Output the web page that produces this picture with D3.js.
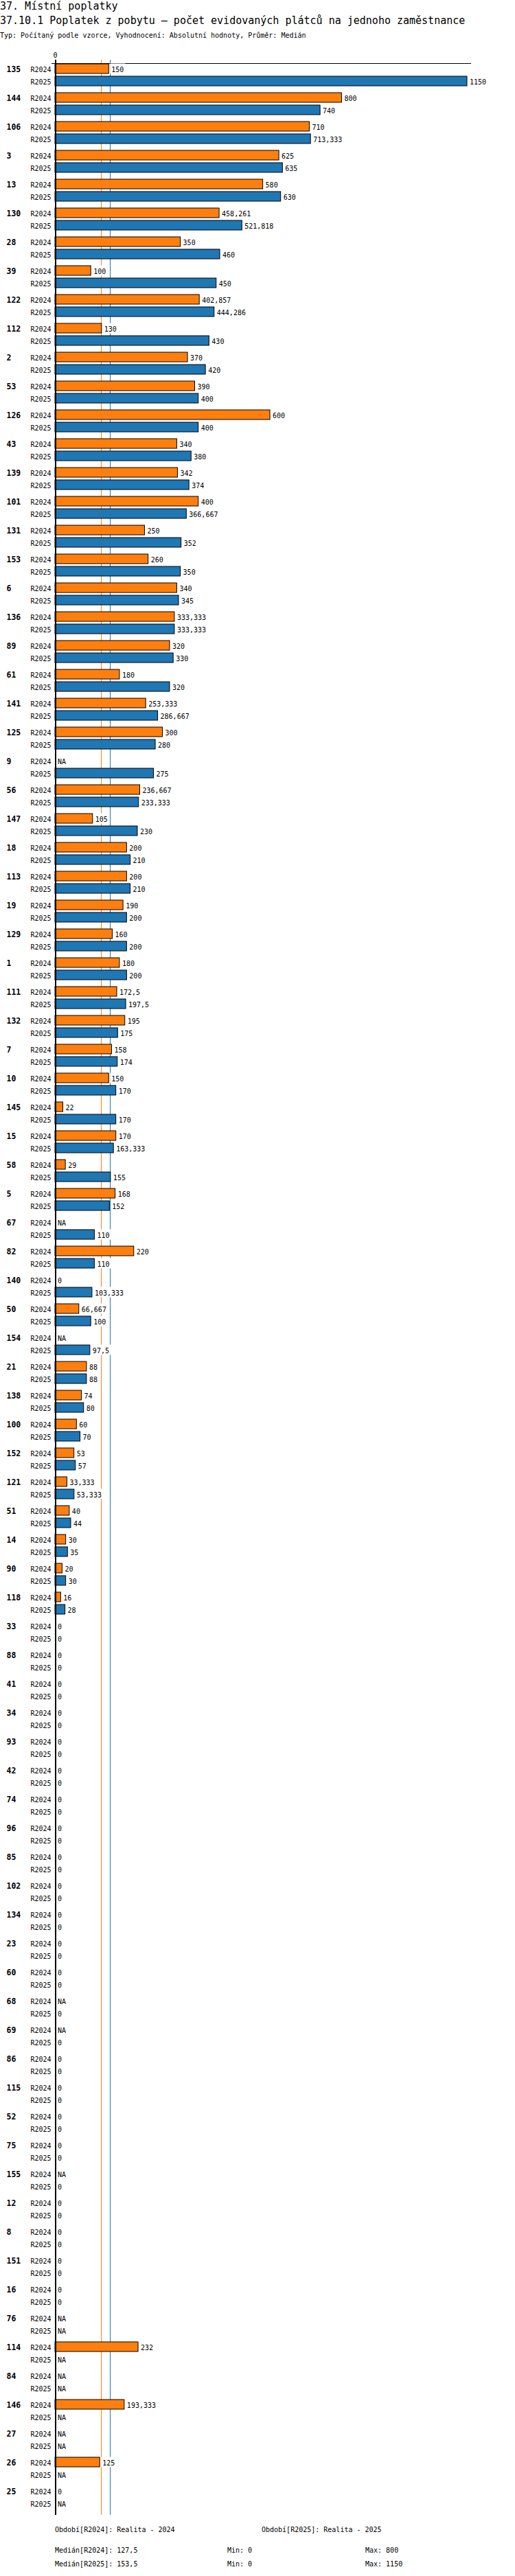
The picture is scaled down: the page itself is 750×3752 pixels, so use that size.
<!DOCTYPE html>
<html>
<head>
<meta charset="utf-8">
<script src="https://cdn.jsdelivr.net/npm/d3@7"></script>
<style>
  body { margin: 0; background: #fff; }
  text { font-family: "DejaVu Sans Mono", monospace; fill: #000; }
</style>
</head>
<body>
<div id="chart"></div>
<script>
// chart values (null = NA)
const categories = ['135', '144', '106', '3', '13', '130', '28', '39', '122', '112',
    '2', '53', '126', '43', '139', '101', '131', '153', '6', '136',
    '89', '61', '141', '125', '9', '56', '147', '18', '113', '19',
    '129', '1', '111', '132', '7', '10', '145', '15', '58', '5',
    '67', '82', '140', '50', '154', '21', '138', '100', '152', '121',
    '51', '14', '90', '118', '33', '88', '41', '34', '93', '42',
    '74', '96', '85', '102', '134', '23', '60', '68', '69', '86',
    '115', '52', '75', '155', '12', '8', '151', '16', '76', '114',
    '84', '146', '27', '26', '25'];

const r2024 = [150, 800, 710, 625, 580, 458.261, 350, 100, 402.857, 130,
    370, 390, 600, 340, 342, 400, 250, 260, 340, 333.333,
    320, 180, 253.333, 300, null, 236.667, 105, 200, 200, 190,
    160, 180, 172.5, 195, 158, 150, 22, 170, 29, 168,
    null, 220, 0, 66.667, null, 88, 74, 60, 53, 33.333,
    40, 30, 20, 16, 0, 0, 0, 0, 0, 0,
    0, 0, 0, 0, 0, 0, 0, null, null, 0,
    0, 0, 0, null, 0, 0, 0, 0, null, 232,
    null, 193.333, null, 125, 0];

const r2025 = [1150, 740, 713.333, 635, 630, 521.818, 460, 450, 444.286, 430,
    420, 400, 400, 380, 374, 366.667, 352, 350, 345, 333.333,
    330, 320, 286.667, 280, 275, 233.333, 230, 210, 210, 200,
    200, 200, 197.5, 175, 174, 170, 170, 163.333, 155, 152,
    110, 110, 103.333, 100, 97.5, 88, 80, 70, 57, 53.333,
    44, 35, 30, 28, 0, 0, 0, 0, 0, 0,
    0, 0, 0, 0, 0, 0, 0, 0, 0, 0,
    0, 0, 0, 0, 0, 0, 0, 0, null, null,
    null, null, null, null, null];

const seriesNames = ['R2024', 'R2025'];
const seriesColors = ['#ff7f0e', '#1f77b4'];
const medians = [127.5, 153.5];
const axisTicks = [0];

const titles = ['37. Místní poplatky',
    '37.10.1 Poplatek z pobytu – počet evidovaných plátců na jednoho zaměstnance'];
const subtitle = 'Typ: Počítaný podle vzorce, Vyhodnocení: Absolutní hodnoty, Průměr: Medián';
const periods = ['Období[R2024]: Realita - 2024', 'Období[R2025]: Realita - 2025'];

const W = 750, H = 3752;
const svg = d3.select('#chart').append('svg')
    .attr('width', W)
    .attr('height', H);

// czech number style: comma as decimal mark
const fmt = v => v === null ? 'NA' : String(+v.toFixed(3)).replace('.', ',');

const rows = categories.map((c, i) => ({ cat: c, vals: [r2024[i], r2025[i]] }));

// scales
const x = d3.scaleLinear().domain([0, 1150]).range([80, 680]);
const y = d3.scaleBand().domain(categories).range([93, 3653]).paddingInner(10 / 42).paddingOuter(0);
const ys = d3.scaleBand().domain(seriesNames).range([0, y.bandwidth()]).paddingInner(4 / 18).paddingOuter(0);

const plotTop = 87, plotBottom = 3663;

// titles
svg.append('text').attr('x', 0).attr('y', 13.5).style('font-size', '15px').text(titles[0]);
svg.append('text').attr('x', 0).attr('y', 35).style('font-size', '15px').text(titles[1]);
svg.append('text').attr('x', 0).attr('y', 55).style('font-size', '10px').text(subtitle);

// median lines (behind bars)
svg.selectAll('line.median').data(medians).join('line')
    .attr('class', 'median')
    .attr('x1', d => Math.round(x(d)) + 0.5).attr('x2', d => Math.round(x(d)) + 0.5)
    .attr('y1', plotTop).attr('y2', plotBottom)
    .attr('stroke', (d, i) => seriesColors[i]).attr('stroke-width', 1);

// top axis, only the 0 tick
const axisG = svg.append('g').attr('transform', 'translate(0,92)')
    .call(d3.axisTop(x).tickValues(axisTicks).tickSize(5).tickSizeOuter(0).tickFormat(d3.format('d')));
axisG.select('.domain').attr('d', 'M75,0.5H686').attr('stroke', '#000');
axisG.selectAll('.tick line').remove();
axisG.selectAll('.tick text')
    .style('font-family', '"DejaVu Sans Mono", monospace')
    .style('font-size', '10px');

// one group per category
const groups = svg.selectAll('g.grp').data(rows).join('g')
    .attr('class', 'grp')
    .attr('transform', d => `translate(0,${y(d.cat)})`);

groups.append('text')
    .attr('x', 9.5).attr('y', 11.7)
    .style('font-size', '11.5px').style('font-weight', 'bold')
    .text(d => d.cat);

const bars = groups.selectAll('g.bar')
    .data(d => d.vals.map((v, k) => ({ v, k })))
    .join('g').attr('class', 'bar')
    .attr('transform', d => `translate(0,${ys(seriesNames[d.k])})`);

bars.append('text')
    .attr('x', 74.5).attr('y', 11.5)
    .attr('text-anchor', 'end')
    .style('font-size', '10px')
    .text(d => seriesNames[d.k]);

bars.filter(d => d.v !== null && d.v > 0).append('rect')
    .attr('x', x(0)).attr('y', 0)
    .attr('width', d => x(d.v) - x(0))
    .attr('height', ys.bandwidth())
    .attr('fill', d => seriesColors[d.k])
    .attr('stroke', '#000').attr('stroke-width', 1);

// value labels on white boxes (they hide the median lines)
bars.each(function (d) {
    const g = d3.select(this);
    const lx = (d.v !== null && d.v > 0 ? x(d.v) : x(0)) + 4;
    const bg = g.append('rect').attr('fill', '#fff');
    const t = g.append('text')
        .attr('x', lx).attr('y', 11.5)
        .style('font-size', '10px')
        .text(fmt(d.v));
    const len = t.node().getComputedTextLength();
    bg.attr('x', lx - 2).attr('y', -0.5).attr('width', len + 4).attr('height', ys.bandwidth() + 1);
});

// vertical axis line on top
svg.append('line')
    .attr('x1', 81).attr('x2', 81)
    .attr('y1', plotTop).attr('y2', plotBottom)
    .attr('stroke', '#000').attr('stroke-width', 2);

// footer
const foot = svg.append('g').style('font-size', '10px');
foot.append('text').attr('x', 80).attr('y', 3688).text(periods[0]);
foot.append('text').attr('x', 381).attr('y', 3688).text(periods[1]);
const stats = seriesNames.map((s, k) => {
    const vals = (k === 0 ? r2024 : r2025).filter(v => v !== null);
    return { s, med: medians[k], min: d3.min(vals), max: d3.max(vals) };
});
stats.forEach((st, k) => {
    const yy = 3717.7 + k * 20;
    foot.append('text').attr('x', 80).attr('y', yy).text(`Medián[${st.s}]: ${fmt(st.med)}`);
    foot.append('text').attr('x', 331).attr('y', yy).text(`Min: ${fmt(st.min)}`);
    foot.append('text').attr('x', 532).attr('y', yy).text(`Max: ${fmt(st.max)}`);
});
</script>
</body>
</html>
